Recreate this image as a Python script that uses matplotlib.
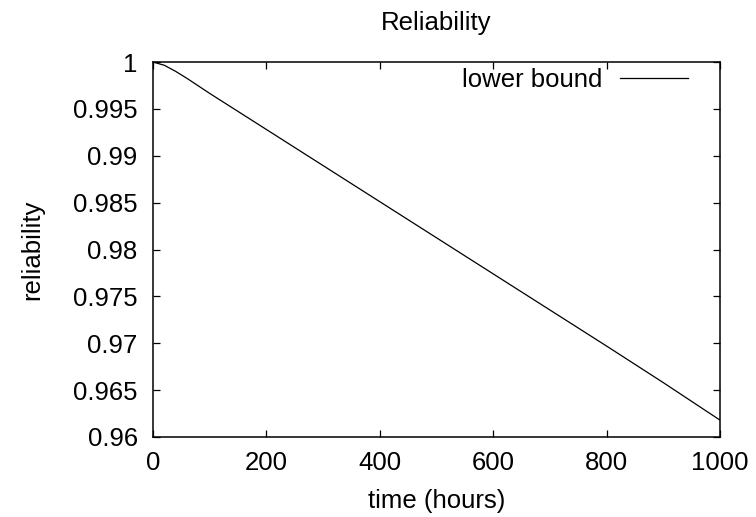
import matplotlib
matplotlib.use("Agg")
import matplotlib.pyplot as plt

# lower bound of reliability
hours = [0, 20, 40, 60, 80, 100, 200, 300, 400, 500, 600, 700, 800, 900, 1000]
lower_bound = [1.0, 0.99965, 0.9990, 0.99825, 0.99745, 0.99665, 0.99280, 0.98895,
               0.98510, 0.98125, 0.97740, 0.97355, 0.96970, 0.96580, 0.96180]

x_ticks = [0, 200, 400, 600, 800, 1000]
y_ticks = [0.96, 0.965, 0.97, 0.975, 0.98, 0.985, 0.99, 0.995, 1.0]
y_tick_labels = ['0.96', '0.965', '0.97', '0.975', '0.98', '0.985', '0.99', '0.995', '1']

FS = 18.5

plt.rcParams['font.family'] = ['Liberation Sans', 'DejaVu Sans']

fig = plt.figure(figsize=(7.56, 5.17), dpi=100)
ax = fig.add_axes([153 / 756, 80 / 517, 567 / 756, 375 / 517])

ax.plot(hours, lower_bound, color='black', lw=0.9, label='lower bound')

ax.set_xlim(0, 1000)
ax.set_ylim(0.96, 1.0)
ax.set_xticks(x_ticks)
ax.set_yticks(y_ticks)
ax.set_yticklabels(y_tick_labels)
ax.tick_params(direction='in', length=5, width=0.9, top=True, right=True,
               labelsize=FS, colors='black')
ax.tick_params(axis='y', pad=11)
ax.tick_params(axis='x', pad=10)
for s in ax.spines.values():
    s.set_linewidth(1.1)

ax.set_xlabel('time (hours)', fontsize=FS)
ax.xaxis.set_label_coords(0.5, -(501 - 437) / 375)
ax.xaxis.label.set_va('center')
ax.set_ylabel('reliability', fontsize=FS)
ax.yaxis.set_label_coords((32 - 153) / 567, 0.5)
ax.yaxis.label.set_va('center')

fig.text(436.5 / 756, 1 - 23 / 517, 'Reliability', fontsize=FS,
         ha='center', va='center')

ax.legend(loc='upper right', bbox_to_anchor=((688 - 153) / 567, 1 - 6 / 375),
          frameon=False, markerfirst=False, handlelength=2.65,
          handletextpad=0.7, borderaxespad=0, borderpad=0, fontsize=FS)

fig.savefig('out.png', dpi=100)
